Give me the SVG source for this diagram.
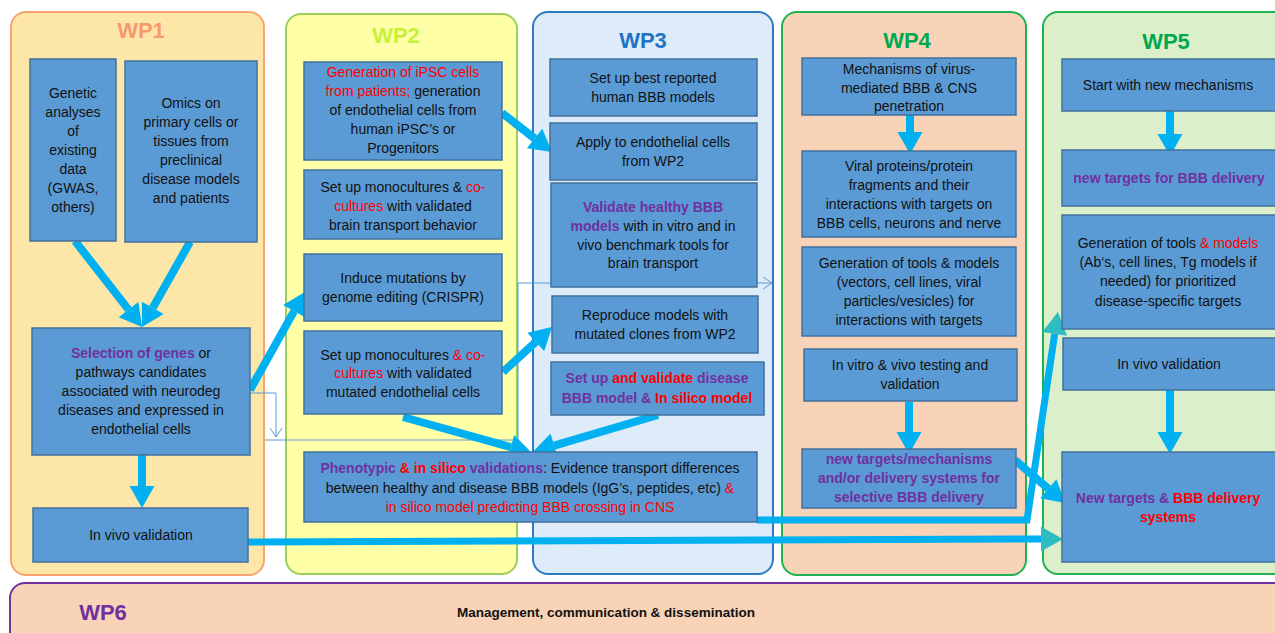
<svg xmlns="http://www.w3.org/2000/svg" width="1275" height="633" viewBox="0 0 1275 633">
<style>
.panel{stroke-width:2}
.box{fill:#5B9BD5;stroke:#41719C;stroke-width:1.5}
.t{font-family:"Liberation Sans",Arial,sans-serif;font-size:14px;fill:#111;text-anchor:middle}
.title{font-family:"Liberation Sans",Arial,sans-serif;font-weight:bold;font-size:22px;text-anchor:middle}
.pb{fill:#7030A0;font-weight:bold}
.r{fill:#FF0000}
.rb{fill:#FF0000;font-weight:bold}
.b{font-weight:bold}
.arrow{fill:none;stroke:#00B0F0;stroke-width:8;stroke-linejoin:miter}
.arrowT{fill:none;stroke:#00B0F0;stroke-width:7;stroke-linejoin:miter}
.thin{fill:none;stroke:#5B9BD5;stroke-width:1}
</style>
<defs>
<marker id="ah" markerUnits="userSpaceOnUse" markerWidth="22" markerHeight="25" viewBox="0 0 22 25" refX="0" refY="12.5" orient="auto" overflow="visible">
<path d="M0,0 L22,12.5 L0,25 Z" fill="#00B0F0"/>
</marker>
<marker id="ahT" markerUnits="userSpaceOnUse" markerWidth="22" markerHeight="25" viewBox="0 0 22 25" refX="0" refY="12.5" orient="auto" overflow="visible">
<path d="M0,0 L22,12.5 L0,25 Z" fill="#30BDC2"/>
</marker>
<marker id="open" markerUnits="userSpaceOnUse" markerWidth="10" markerHeight="12" viewBox="0 0 10 12" refX="9" refY="6" orient="auto" overflow="visible">
<path d="M0,0 L9,6 L0,12" fill="none" stroke="#5B9BD5" stroke-width="1"/>
</marker>
</defs>

<!-- panels -->
<g id="wp1">
<rect class="panel" x="11" y="12" width="253" height="563" rx="15" fill="#FDE7A8" stroke="#F9A36F"/>
<text class="title" x="141" y="38" fill="#F7996E">WP1</text>
</g>
<g id="wp2">
<rect class="panel" x="286" y="14" width="231" height="560" rx="15" fill="#FFFFA8" stroke="#9BD05A"/>
<text class="title" x="396" y="43" fill="#C8F03A">WP2</text>
</g>
<g id="wp3">
<rect class="panel" x="533" y="12" width="240" height="562" rx="15" fill="#DEEBF8" stroke="#2A7BC4"/>
<text class="title" x="643" y="48" fill="#1F72C4">WP3</text>
</g>
<g id="wp4">
<rect class="panel" x="782" y="12" width="244" height="563" rx="15" fill="#F8D3B7" stroke="#1DB350"/>
<text class="title" x="907" y="48" fill="#00A84F">WP4</text>
</g>
<g id="wp5">
<rect class="panel" x="1043" y="12" width="260" height="562" rx="15" fill="#DCEFCB" stroke="#1DB350"/>
<text class="title" x="1166" y="49" fill="#00A84F">WP5</text>
</g>
<g id="wp6">
<rect class="panel" x="10" y="583" width="1290" height="70" rx="15" fill="#F8D3B7" stroke="#7030A0"/>
<text class="title" x="103" y="620" fill="#7030A0">WP6</text>
<text class="t b" x="606" y="617" style="font-size:13.5px">Management, communication &amp; dissemination</text>
</g>

<!-- connectors -->
<g id="connectors">
<path class="thin" d="M251,393 H276 V437" marker-end="url(#open)"/>
<path class="thin" d="M265,440 H518 V283 H772" marker-end="url(#open)"/>
<path class="arrow" d="M75,241 L128.5,309.6" marker-end="url(#ah)"/>
<path class="arrow" d="M190,242 L152.8,307.8" marker-end="url(#ah)"/>
<path class="arrow" d="M142,455 V486" marker-end="url(#ah)"/>
<path class="arrow" d="M250,390 L294.1,311.1" marker-end="url(#ah)"/>
<path class="arrow" d="M502,113 L534.6,138.5" marker-end="url(#ah)"/>
<path class="arrow" d="M503,372 L535.8,341.9" marker-end="url(#ah)"/>
<path class="arrow" d="M403,417 L510.8,447.1" marker-end="url(#ah)"/>
<path class="arrow" d="M658,415 L554.1,445.6" marker-end="url(#ah)"/>
<path class="arrow" d="M910,115 V132" marker-end="url(#ah)"/>
<path class="arrow" d="M909,402 V432" marker-end="url(#ah)"/>
<path class="arrow" d="M1170,111 V134" marker-end="url(#ah)"/>
<path class="arrow" d="M1170,390 V432" marker-end="url(#ah)"/>
<path class="arrow" d="M1015,460 L1048.3,488.7" marker-end="url(#ah)"/>
<path class="arrowT" d="M757,520 H1027 L1054.7,333.8" marker-end="url(#ahT)"/>
<path class="arrowT" d="M248,542 L1041,539" marker-end="url(#ahT)"/>
</g>

<!-- WP1 nodes -->
<g id="n-genetic">
<rect class="box" x="30" y="59" width="86" height="182"/>
<text class="t"><tspan x="73" y="98">Genetic</tspan><tspan x="73" y="117">analyses</tspan><tspan x="73" y="136">of</tspan><tspan x="73" y="155">existing</tspan><tspan x="73" y="174">data</tspan><tspan x="73" y="193">(GWAS,</tspan><tspan x="73" y="212">others)</tspan></text>
</g>
<g id="n-omics">
<rect class="box" x="125" y="61" width="132" height="181"/>
<text class="t"><tspan x="191" y="108">Omics  on</tspan><tspan x="191" y="127">primary cells or</tspan><tspan x="191" y="146">tissues from</tspan><tspan x="191" y="165">preclinical</tspan><tspan x="191" y="184">disease models</tspan><tspan x="191" y="203">and patients</tspan></text>
</g>
<g id="n-selection">
<rect class="box" x="32" y="328" width="218" height="127"/>
<text class="t" x="141" y="358"><tspan class="pb">Selection of genes</tspan>  or</text>
<text class="t"><tspan x="141" y="377">pathways candidates</tspan><tspan x="141" y="396">associated with neurodeg</tspan><tspan x="141" y="415">diseases and expressed in</tspan><tspan x="141" y="434">endothelial cells</tspan></text>
</g>
<g id="n-invivo1">
<rect class="box" x="33" y="508" width="215" height="54"/>
<text class="t" x="141" y="540">In vivo validation</text>
</g>

<!-- WP2 nodes -->
<g id="n-ipsc">
<rect class="box" x="304" y="62" width="198" height="98"/>
<text class="t" x="403" y="77"><tspan class="r">Generation of iPSC cells</tspan></text>
<text class="t" x="403" y="96"><tspan class="r">from patients;</tspan> generation</text>
<text class="t"><tspan x="403" y="115">of endothelial cells from</tspan><tspan x="403" y="134">human iPSC’s or</tspan><tspan x="403" y="153">Progenitors</tspan></text>
</g>
<g id="n-mono1">
<rect class="box" x="304" y="170" width="198" height="69"/>
<text class="t" x="403" y="192">Set up monocultures &amp; <tspan class="r">co-</tspan></text>
<text class="t" x="403" y="211"><tspan class="r">cultures</tspan> with validated</text>
<text class="t" x="403" y="230">brain transport behavior</text>
</g>
<g id="n-crispr">
<rect class="box" x="304" y="254" width="198" height="67"/>
<text class="t"><tspan x="403" y="283">Induce mutations by</tspan><tspan x="403" y="302">genome editing (CRISPR)</tspan></text>
</g>
<g id="n-mono2">
<rect class="box" x="304" y="331" width="198" height="83"/>
<text class="t" x="403" y="360">Set up monocultures <tspan class="r">&amp; co-</tspan></text>
<text class="t" x="403" y="378"><tspan class="r">cultures</tspan> with validated</text>
<text class="t" x="403" y="397">mutated endothelial cells</text>
</g>
<g id="n-phenotypic">
<rect class="box" x="304" y="452" width="453" height="70"/>
<text class="t" x="530" y="473"><tspan class="pb">Phenotypic</tspan><tspan class="rb"> &amp; in silico</tspan><tspan class="pb"> validations</tspan>: Evidence transport differences</text>
<text class="t" x="530" y="493">between healthy and disease BBB models (IgG’s, peptides, etc) <tspan class="r">&amp;</tspan></text>
<text class="t r" x="530" y="512">in silico model predicting BBB crossing in CNS</text>
</g>

<!-- WP3 nodes -->
<g id="n-bestbbb">
<rect class="box" x="550" y="59" width="207" height="57"/>
<text class="t"><tspan x="653" y="83">Set up best reported</tspan><tspan x="653" y="102">human BBB models</tspan></text>
</g>
<g id="n-apply">
<rect class="box" x="550" y="123" width="207" height="57"/>
<text class="t"><tspan x="653" y="147">Apply to endothelial cells</tspan><tspan x="653" y="166">from WP2</tspan></text>
</g>
<g id="n-validate">
<rect class="box" x="551" y="183" width="206" height="104"/>
<text class="t pb" x="653" y="212">Validate healthy BBB</text>
<text class="t" x="653" y="231"><tspan class="pb">models</tspan> with in vitro and in</text>
<text class="t"><tspan x="653" y="250">vivo benchmark tools for</tspan><tspan x="653" y="268">brain transport</tspan></text>
</g>
<g id="n-reproduce">
<rect class="box" x="552" y="296" width="206" height="57"/>
<text class="t"><tspan x="655" y="320">Reproduce models with</tspan><tspan x="655" y="339">mutated clones from WP2</tspan></text>
</g>
<g id="n-disease">
<rect class="box" x="551" y="362" width="213" height="53"/>
<text class="t" x="657" y="383"><tspan class="pb">Set up</tspan><tspan class="rb"> and validate</tspan><tspan class="pb"> disease</tspan></text>
<text class="t" x="657" y="403"><tspan class="pb">BBB model &amp;</tspan><tspan class="rb"> In silico model</tspan></text>
</g>

<!-- WP4 nodes -->
<g id="n-virus">
<rect class="box" x="802" y="58" width="214" height="57"/>
<text class="t"><tspan x="909" y="74">Mechanisms of virus-</tspan><tspan x="909" y="93">mediated BBB &amp; CNS</tspan><tspan x="909" y="111">penetration</tspan></text>
</g>
<g id="n-viral">
<rect class="box" x="802" y="151" width="214" height="86"/>
<text class="t"><tspan x="909" y="171">Viral proteins/protein</tspan><tspan x="909" y="190">fragments and their</tspan><tspan x="909" y="209">interactions with targets on</tspan><tspan x="909" y="228">BBB cells, neurons and nerve</tspan></text>
</g>
<g id="n-tools4">
<rect class="box" x="802" y="247" width="214" height="89"/>
<text class="t"><tspan x="909" y="268">Generation of tools &amp; models</tspan><tspan x="909" y="287">(vectors, cell lines, viral</tspan><tspan x="909" y="306">particles/vesicles) for</tspan><tspan x="909" y="325">interactions with targets</tspan></text>
</g>
<g id="n-testing">
<rect class="box" x="804" y="349" width="213" height="52"/>
<text class="t"><tspan x="910" y="370">In vitro &amp; vivo testing and</tspan><tspan x="910" y="389">validation</tspan></text>
</g>
<g id="n-newtargets4">
<rect class="box" x="802" y="449" width="214" height="59"/>
<text class="t pb"><tspan x="909" y="464">new targets/mechanisms</tspan><tspan x="909" y="483">and/or delivery systems for</tspan><tspan x="909" y="502">selective BBB delivery</tspan></text>
</g>

<!-- WP5 nodes -->
<g id="n-start">
<rect class="box" x="1062" y="59" width="230" height="52"/>
<text class="t" x="1168" y="90">Start with new mechanisms</text>
</g>
<g id="n-newtargets5">
<rect class="box" x="1062" y="150" width="230" height="56"/>
<text class="t pb" x="1169" y="183">new targets for BBB delivery</text>
</g>
<g id="n-tools5">
<rect class="box" x="1062" y="215" width="230" height="114"/>
<text class="t" x="1168" y="248">Generation of tools <tspan class="r">&amp; models</tspan></text>
<text class="t"><tspan x="1168" y="267">(Ab‘s, cell lines, Tg models if</tspan><tspan x="1168" y="286">needed)   for prioritized</tspan><tspan x="1168" y="306">disease-specific targets</tspan></text>
</g>
<g id="n-invivo5">
<rect class="box" x="1063" y="338" width="230" height="52"/>
<text class="t" x="1169" y="369">In vivo validation</text>
</g>
<g id="n-delivery">
<rect class="box" x="1062" y="452" width="230" height="110"/>
<text class="t" x="1168" y="503"><tspan class="pb">New targets &amp; </tspan><tspan class="rb">BBB delivery</tspan></text>
<text class="t rb" x="1168" y="522">systems</text>
</g>
</svg>
